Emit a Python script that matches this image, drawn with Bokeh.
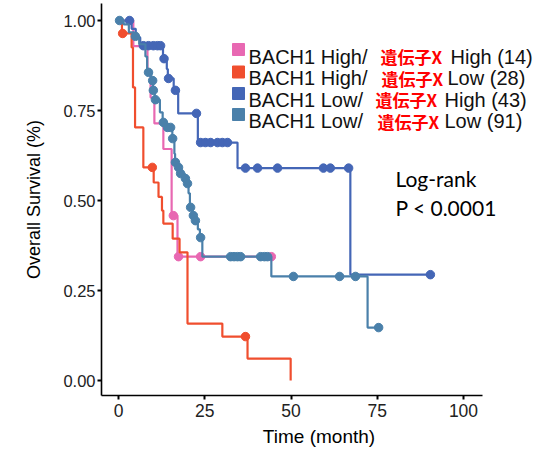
import numpy as np
from bokeh.plotting import figure
from bokeh.models import Range1d, Label, FixedTicker
from bokeh.embed import file_html
from bokeh.resources import INLINE

# ---------------- data ----------------
# Kaplan-Meier step points: time (month) and survival after the step
pink_t = [0, 4.3, 8.4, 9.3, 10.4, 13.0, 15.4, 17.1, 44.3]
pink_s = [1.0, 0.929, 0.857, 0.786, 0.714, 0.643, 0.458, 0.344, 0.344]
pink_c = [15.9, 17.4, 23.8, 44.3]

red_t = [0, 1.0, 3.8, 4.2, 4.8, 7.2, 10.2, 11.6, 12.6, 13.0, 15.7, 17.7, 20.0, 30.1, 37.4, 49.9]
red_s = [1.0, 0.964, 0.925, 0.814, 0.703, 0.592, 0.55, 0.51, 0.472, 0.436, 0.394, 0.356, 0.158, 0.122, 0.061, 0.0]
red_c = [1.2, 9.8, 36.8]

blue_t = [0, 3.8, 5.0, 6.3, 12.9, 14.0, 14.3, 16.0, 17.3, 23.0, 34.5, 67.2, 90.4]
blue_s = [1.0, 0.977, 0.953, 0.930, 0.894, 0.865, 0.839, 0.806, 0.742, 0.661, 0.590, 0.294, 0.294]
blue_c = [3.2, 7.2, 8.7, 10.1, 11.3, 12.2, 13.2, 14.5, 16.5, 22.6, 23.8, 25.2, 26.7, 28.7,
          30.1, 31.6, 36.8, 40.3, 46.1, 59.4, 61.4, 66.7, 90.4]

steel_t = [0, 1.5, 3.0, 4.5, 6.0, 7.8, 8.3, 9.5, 10.0, 10.5, 12.0, 12.8, 14.0, 15.6, 16.2, 16.4,
           17.2, 17.8, 19.2, 19.8, 20.3, 20.7, 21.5, 22.0, 23.0, 23.6, 24.3, 44.3, 72.2, 75.4]
steel_s = [1.0, 0.989, 0.967, 0.956, 0.934, 0.90, 0.856, 0.833, 0.806, 0.78, 0.745, 0.717, 0.703,
           0.672, 0.63, 0.606, 0.592, 0.575, 0.561, 0.547, 0.52, 0.481, 0.458, 0.444, 0.42, 0.397,
           0.344, 0.289, 0.147, 0.147]
steel_c = [0.3, 4.9, 8.7, 9.9, 10.1, 10.7, 13.0, 14.2, 15.1, 15.7, 16.5, 17.4, 18.0, 19.4, 20.0,
           20.9, 21.7, 22.3, 23.8, 32.5, 33.5, 34.5, 35.4, 41.2, 42.3, 43.2, 50.7, 64.1, 68.7, 75.4]

legend_prefix = ["BACH1 High/", "BACH1 High/", "BACH1 Low/", "BACH1 Low/"]
legend_gene = "遺伝子X"
legend_level = ["High (14)", "Low (28)", "High (43)", "Low (91)"]
colors = ["#E868B2", "#F04E2E", "#4466B6", "#4A80AA"]

x_ticks = [0, 25, 50, 75, 100]
y_ticks = [0.0, 0.25, 0.5, 0.75, 1.0]
y_tick_labels = ["0.00", "0.25", "0.50", "0.75", "1.00"]

stat_lines = ["Log-rank", "P < 0.0001"]

# ---------------- layout helpers (page pixel -> data) ----------------
def px_x(px):
    return (px - 118.0) / 3.45

def px_y(py):
    return (380.0 - py) / 360.0

W, H = 536, 450
p = figure(width=W, height=H,
           x_range=Range1d(px_x(101), px_x(W)),
           y_range=Range1d(px_y(395), px_y(3)),
           output_backend="svg", toolbar_location=None,
           min_border_left=101, min_border_bottom=H - 395, min_border_top=3, min_border_right=0)
p.outline_line_color = None
p.xgrid.visible = False
p.ygrid.visible = False
p.background_fill_color = "white"
p.border_fill_color = "white"

# axes
for ax in (p.xaxis[0], p.yaxis[0]):
    ax.axis_line_color = "black"
    ax.axis_line_width = 1.6
    ax.major_tick_line_color = "black"
    ax.major_tick_line_width = 2
    ax.major_tick_out = 4
    ax.major_tick_in = 0
    ax.minor_tick_line_color = None
    ax.major_label_text_color = "#222222"
    ax.major_label_text_font = "Liberation Sans"
    ax.axis_label_text_font = "Liberation Sans"
    ax.axis_label_text_font_style = "normal"
    ax.axis_label_text_color = "black"

p.xaxis.ticker = FixedTicker(ticks=x_ticks)
p.yaxis.ticker = FixedTicker(ticks=y_ticks)
p.yaxis.major_label_overrides = {t: l for t, l in zip(y_ticks, y_tick_labels)}
p.xaxis.bounds = (px_x(101), 105.5)
p.yaxis.bounds = (px_y(395), px_y(3))
p.xaxis.major_label_text_font_size = "17.5px"
p.yaxis.major_label_text_font_size = "16.5px"
p.xaxis.axis_label = "Time (month)"
p.yaxis.axis_label = "Overall Survival (%)"
p.xaxis.axis_label_text_font_size = "19px"
p.yaxis.axis_label_text_font_size = "18px"
p.xaxis.major_label_standoff = 4
p.xaxis.axis_label_standoff = 6
p.yaxis.major_label_standoff = 2
p.yaxis.axis_label_standoff = 16

def surv_at(t, s, c):
    t = np.asarray(t); s = np.asarray(s)
    idx = np.searchsorted(t, np.asarray(c), side="right") - 1
    return s[idx]

series = [(pink_t, pink_s, pink_c), (red_t, red_s, red_c),
          (blue_t, blue_s, blue_c), (steel_t, steel_s, steel_c)]
for (t, s, c), col in zip(series, colors):
    p.step(t, s, mode="after", line_color=col, line_width=2.2)
    p.scatter(c, surv_at(t, s, c), marker="circle", size=8.5, fill_color=col, line_color=col)

# legend (custom: mixed colours)
key_y = [49, 71.5, 93, 114]
base_y = [56, 77.5, 99, 120.5]
gene_x = [380, 381, 375, 377]
level_x = [450, 447, 444, 444]
p.scatter([px_x(238)] * 4, [px_y(v) for v in key_y], marker="square", size=12,
          fill_color=colors, line_color=colors)
for i in range(4):
    p.add_layout(Label(x=px_x(248), y=px_y(base_y[i]), text=legend_prefix[i],
                       text_font="Liberation Sans", text_font_size="20px", text_color="#111111",
                       text_baseline="alphabetic"))
    p.add_layout(Label(x=px_x(gene_x[i]), y=px_y(base_y[i]), text=legend_gene,
                       text_font="Noto Sans CJK JP", text_font_size="17px", text_font_style="bold",
                       text_color="#FF0000", text_baseline="alphabetic"))
    p.add_layout(Label(x=px_x(level_x[i]), y=px_y(base_y[i]), text=legend_level[i],
                       text_font="Liberation Sans", text_font_size="20px", text_color="#111111",
                       text_baseline="alphabetic"))

for txt, by in zip(stat_lines, [178, 207]):
    p.add_layout(Label(x=px_x(395), y=px_y(by), text=txt, text_font="Lato",
                       text_font_size="21px", text_color="black", text_baseline="alphabetic"))

open("out.html", "w").write(file_html(p, INLINE))
